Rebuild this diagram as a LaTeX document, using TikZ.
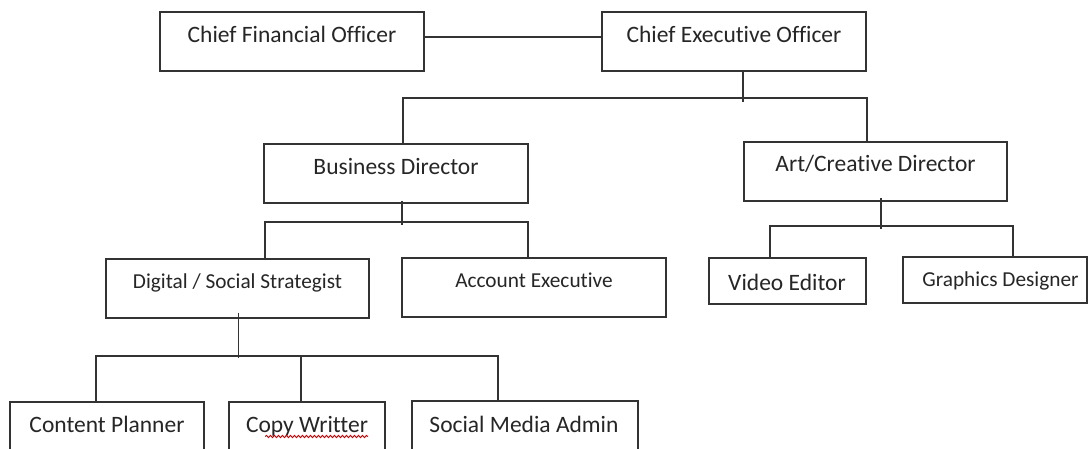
\documentclass[tikz,border=0pt]{standalone}
\usepackage{fontspec}
\setmainfont{Carlito}[Ligatures={CommonOff,ContextualOff}]
\usetikzlibrary{decorations.pathmorphing}
\tikzset{
  box/.style={draw=black!80, line width=1.2pt, rectangle, inner sep=0pt},
  big/.style={anchor=base, inner sep=0pt, text=black!85, font=\fontsize{23.5}{28}\selectfont},
  small/.style={anchor=base, inner sep=0pt, text=black!85, font=\fontsize{21.3}{26}\selectfont},
  link/.style={draw=black!80, line width=1.2pt},
  squiggle/.style={draw=red!80!black, line width=0.9pt, decorate, decoration={snake, amplitude=1.1pt, segment length=4pt}}
}
\begin{document}
\begin{tikzpicture}[x=1pt, y=-1pt]
\useasboundingbox (0,0) rectangle (1089,449);
\clip (0,0) rectangle (1089,449);
\fill[white] (0,0) rectangle (1089,449);

% boxes
\node[box, minimum width=264pt, minimum height=59pt] (cfo) at (292,41.5) {};
\node[box, minimum width=264pt, minimum height=59pt] (ceo) at (734,41.5) {};
\node[box, minimum width=264pt, minimum height=59pt] (bd)  at (396,173.5) {};
\node[box, minimum width=263pt, minimum height=59pt] (art) at (875.5,171.5) {};
\node[box, minimum width=263pt, minimum height=59pt] (dig) at (237.5,288.5) {};
\node[box, minimum width=264pt, minimum height=59pt] (acc) at (534,287.5) {};
\node[box, minimum width=157pt, minimum height=46pt] (vid) at (787.5,281) {};
\node[box, minimum width=184pt, minimum height=46pt] (gra) at (995,280) {};
\node[box, minimum width=194pt, minimum height=60pt] (con) at (107,432) {};
\node[box, minimum width=156pt, minimum height=60pt] (cop) at (307,432) {};
\node[box, minimum width=226pt, minimum height=62pt] (soc) at (525,432) {};

% texts
\node[big]   (cfoT) at (292,43)   {Chief Financial Officer};
\node[big]   (ceoT) at (734,43)   {Chief Executive Officer};
\node[big]   (bdT)  at (396,175)  {Business Director};
\node[big]   (artT) at (875.5,172){Art/Creative Director};
\node[small] (digT) at (237.5,288){Digital / Social Strategist};
\node[small] (accT) at (534,287)  {Account Executive};
\node[big]   (vidT) at (787,290)  {Video Editor};
\node[small] (graT) at (1000.5,286){Graphics Designer};
\node[big]   (conT) at (107,432)  {Content Planner};
\node[big]   (copT) at (307,432)  {Copy Writter};
\node[big]   (socT) at (524,432)  {Social Media Admin};

% spell-check squiggle
\draw[squiggle] ([xshift=-103pt, yshift=-4.5pt]copT.base east) -- ([yshift=-4.5pt]copT.base east);

% CFO -- CEO
\draw[link] ([yshift=4.5pt]cfo.east) -- ([yshift=4.5pt]ceo.west);

% CEO branch
\coordinate (j1)  at (743,98);
\coordinate (b1L) at (403,98);
\coordinate (b1R) at (867,98);
\draw[link] (ceo.south -| j1) -- ([yshift=-4pt]j1);
\draw[link] (bd.north -| b1L) -- (b1L) -- (b1R) -- (art.north -| b1R);

% Business Director branch
\coordinate (j2)  at (402,222);
\coordinate (b2L) at (265,222);
\coordinate (b2R) at (528,222);
\draw[link] ([yshift=3pt]bd.south -| j2) -- ([yshift=-3pt]j2);
\draw[link] (dig.north -| b2L) -- (b2L) -- (b2R) -- (acc.north -| b2R);

% Art Director branch
\coordinate (j3)  at (881,226);
\coordinate (b3L) at (770,226);
\coordinate (b3R) at (1013,226);
\draw[link] ([yshift=4pt]art.south -| j3) -- ([yshift=-3pt]j3);
\draw[link] (vid.north -| b3L) -- (b3L) -- (b3R) -- (gra.north -| b3R);

% Digital Strategist branch
\coordinate (j4)  at (238.5,356);
\coordinate (b4L) at (96,356);
\coordinate (b4M) at (301,356);
\coordinate (b4R) at (498,356);
\draw[link] ([yshift=6pt]dig.south -| j4) -- ([yshift=-2pt]j4);
\draw[link] (con.north -| b4L) -- (b4L) -- (b4R) -- (soc.north -| b4R);
\draw[link] (b4M) -- (cop.north -| b4M);
\end{tikzpicture}
\end{document}
